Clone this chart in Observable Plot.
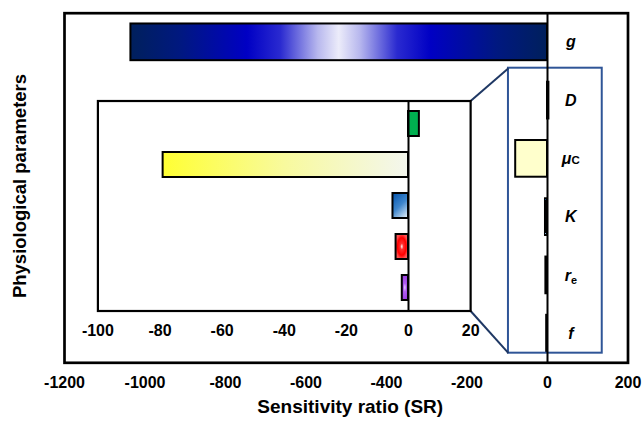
<!DOCTYPE html>
<html><head><meta charset="utf-8">
<script src="https://cdn.jsdelivr.net/npm/d3@7"></script>
<script src="https://cdn.jsdelivr.net/npm/@observablehq/plot@0.6"></script>
<style>body{margin:0;background:#fff} #chart{position:relative;width:643px;height:421px}</style>
</head><body><div id="chart"></div>
<script>
// ---- data ----
const categories = ["g", "D", "μC", "K", "re", "f"];
const srValues = [-1035, 3.5, -79, -5, -4, -2];
const insetCategories = ["D", "μC", "K", "re", "f"];
const mainTicks = [-1200, -1000, -800, -600, -400, -200, 0, 200];
const insetTicks = [-100, -80, -60, -40, -20, 0, 20];
const xTitle = "Sensitivity ratio (SR)";
const yTitle = "Physiological parameters";

// ---- styles ----
const mainFill = {g: "url(#gradG)", D: "#00B050", "μC": "#FFFFCC", K: "url(#gradK)", re: "url(#gradRe)", f: "url(#gradF)"};
const insetFill = {D: "#00B050", "μC": "url(#gradMu)", K: "url(#gradK)", re: "url(#gradRe)", f: "url(#gradF)"};
const font = "'Liberation Sans', Arial, sans-serif";
const W = 643, H = 421;

const rows = categories.map((cat, i) => ({cat, i, sr: srValues[i]}));
const insetRows = rows.filter(d => insetCategories.includes(d.cat));

// layout (in main-plot data coordinates)
const zoomBox = {x1: -97, x2: 136, y1: 0.444, y2: 5.335};
const insetBox = {x1: -1117, x2: -191, y1: 1.007, y2: 4.611};
const connectors = [
  {x1: insetBox.x2, y1: insetBox.y1, x2: zoomBox.x1, y2: zoomBox.y1},
  {x1: insetBox.x2, y1: insetBox.y2, x2: zoomBox.x1, y2: zoomBox.y2}
];
const half = 0.315;

const main = Plot.plot({
  width: W, height: H,
  marginLeft: 64, marginRight: 15.5, marginTop: 12.7, marginBottom: 58.7,
  style: {fontFamily: font, fontSize: "16px", fontWeight: "bold", color: "black", background: "white", overflow: "visible"},
  x: {domain: [-1200, 200], label: null},
  y: {domain: [-0.5, 5.5], reverse: true, axis: null},
  color: {type: "identity"},
  marks: [
    Plot.rect(rows, {x1: 0, x2: "sr", y1: d => d.i - half, y2: d => d.i + half,
      fill: d => mainFill[d.cat], stroke: "black", strokeWidth: 2}),
    Plot.rect([zoomBox], {x1: "x1", x2: "x2", y1: "y1", y2: "y2", fill: "none", stroke: "#2F5597", strokeWidth: 2}),
    Plot.link(connectors, {x1: "x1", y1: "y1", x2: "x2", y2: "y2", stroke: "#1F3864", strokeWidth: 2}),
    Plot.ruleX([0], {stroke: "black", strokeWidth: 2}),
    Plot.text(rows, {x: 58, y: "i", text: "cat", fontSize: 16, fontStyle: "italic", fontWeight: "bold", fill: "black"}),
    Plot.frame({stroke: "black", strokeWidth: 2.7}),
    Plot.axisX({ticks: mainTicks, tickSize: 0, tickPadding: 14, tickFormat: d => String(d), fontSize: 16, label: null}),
    Plot.text([xTitle], {text: d => d, frameAnchor: "bottom", dy: 50, dx: 4, fontSize: 19, fill: "black"}),
    Plot.text([yTitle], {text: d => d, frameAnchor: "left", textAnchor: "middle", dx: -44, dy: -2, rotate: -90, fontSize: 18.5, fill: "black"})
  ]
});

// gradients
const defs = d3.select(main).insert("defs", ":first-child");
function lin(id, stops, x1 = 0, y1 = 0, x2 = 1, y2 = 0) {
  const g = defs.append("linearGradient").attr("id", id).attr("x1", x1).attr("y1", y1).attr("x2", x2).attr("y2", y2);
  stops.forEach(([o, c]) => g.append("stop").attr("offset", o).attr("stop-color", c));
}
function rad(id, stops, cx = 0.5, cy = 0.5, r = 0.5) {
  const g = defs.append("radialGradient").attr("id", id).attr("cx", cx).attr("cy", cy).attr("r", r);
  stops.forEach(([o, c]) => g.append("stop").attr("offset", o).attr("stop-color", c));
}
lin("gradG", [[0, "#00205C"], [0.12, "#001880"], [0.28, "#0000C4"], [0.36, "#2A2AD0"], [0.45, "#B8B8EE"], [0.5, "#ECECFA"], [0.55, "#B8B8EE"], [0.64, "#2A2AD0"], [0.72, "#0000C4"], [0.88, "#001880"], [1, "#00205C"]]);
lin("gradMu", [[0, "#FFFF33"], [0.5, "#F8FA9E"], [1, "#F3F6EE"]]);
lin("gradK", [[0, "#0B5AB0"], [0.5, "#3F86CC"], [1, "#D4E6F5"]], 0.2, 0, 0.8, 1);
rad("gradRe", [[0, "#FFFFFF"], [0.25, "#FF3030"], [0.7, "#FF0000"], [1, "#FF5050"]]);
rad("gradF", [[0, "#F4E8FF"], [0.35, "#B060F0"], [1, "#9B3FE0"]]);

d3.select(main).selectAll("text").filter(function () { return this.textContent === "μC"; }).each(function () {
  const t = d3.select(this); t.text("μ");
  t.append("tspan").attr("font-size", "0.72em").attr("font-style", "normal").text("C");
});
d3.select(main).selectAll("text").filter(function () { return this.textContent === "re"; }).each(function () {
  const t = d3.select(this); t.text("r");
  t.append("tspan").attr("font-size", "0.68em").attr("font-style", "normal").attr("dy", "0.3em").text("e");
});

const sx = main.scale("x"), sy = main.scale("y");
const L = sx.apply(insetBox.x1), R = sx.apply(insetBox.x2), T = sy.apply(insetBox.y1), B = sy.apply(insetBox.y2);

const inset = Plot.plot({
  width: W, height: H,
  marginLeft: L, marginRight: W - R, marginTop: T, marginBottom: H - B,
  style: {fontFamily: font, fontSize: "16px", fontWeight: "bold", color: "black", background: "transparent", overflow: "visible"},
  x: {domain: [-100, 20], label: null},
  y: {domain: insetCategories, paddingInner: 0.4, paddingOuter: 0.2, axis: null},
  color: {type: "identity"},
  marks: [
    Plot.barX(insetRows, {x: "sr", y: "cat", fill: d => insetFill[d.cat], stroke: "black", strokeWidth: 2}),
    Plot.ruleX([0], {stroke: "black", strokeWidth: 2}),
    Plot.frame({stroke: "black", strokeWidth: 2.2}),
    Plot.axisX({ticks: insetTicks, tickSize: 0, tickPadding: 14, tickFormat: d => String(d), fontSize: 16, label: null})
  ]
});
inset.style.position = "absolute";
inset.style.left = "0";
inset.style.top = "0";
inset.style.pointerEvents = "none";
inset.style.background = "transparent";

const chart = document.getElementById("chart");
chart.appendChild(main);
chart.appendChild(inset);
</script>
</body></html>
